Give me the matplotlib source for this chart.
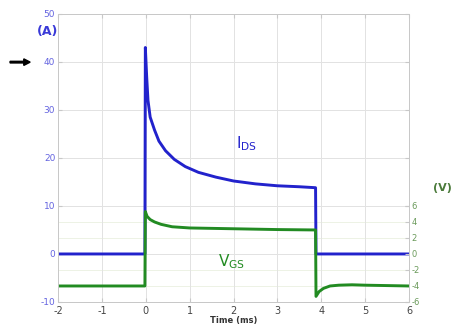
import matplotlib
matplotlib.use('Agg')
import matplotlib.pyplot as plt
from matplotlib.transforms import blended_transform_factory
from matplotlib.patches import FancyArrow

plt.rcParams['axes.unicode_minus'] = False

# drain-source current (A) vs time (ms)
t_ids = [-2, -0.02, -0.01, 0.02, 0.05, 0.1, 0.2, 0.3, 0.45, 0.65, 0.9, 1.2, 1.6, 2.0, 2.5, 3.0, 3.5, 3.87, 3.88, 6]
ids = [0, 0, 43, 37, 32, 28.5, 25.8, 23.5, 21.5, 19.7, 18.2, 17, 16, 15.2, 14.6, 14.2, 14, 13.8, 0, 0]

# gate-source voltage (V) vs time (ms)
t_vgs = [-2, -0.02, -0.01, 0.03, 0.1, 0.2, 0.35, 0.6, 1.0, 1.5, 2.0, 3.0, 3.87, 3.88, 3.95, 4.05, 4.2, 4.4, 4.7, 5.0, 6]
vgs = [-4, -4, 5.3, 4.7, 4.3, 4.0, 3.7, 3.4, 3.25, 3.2, 3.15, 3.05, 3.0, -5.3, -4.7, -4.3, -4.0, -3.9, -3.85, -3.9, -4]

x_ticks = [-2, -1, 0, 1, 2, 3, 4, 5, 6]
a_ticks = [-10, 0, 10, 20, 30, 40, 50]
v_ticks = [-6, -4, -2, 0, 2, 4, 6]

blue = '#2222cc'
green = '#228b22'
grid_c = '#e2e2e2'

fig = plt.figure(figsize=(4.57, 3.27), dpi=100)
ax = fig.add_axes([0.127, 0.0765, 0.768, 0.881])
ax2 = ax.twinx()

ax.plot(t_ids, ids, color=blue, lw=2.1, zorder=3)
ax2.plot(t_vgs, vgs, color=green, lw=2.1)

ax.set_xlim(-2, 6)
ax.set_ylim(-10, 50)
ax2.set_ylim(-6, 30)
ax.set_xticks(x_ticks)
ax.set_yticks(a_ticks)
ax2.set_yticks(v_ticks)

ax.grid(True, color=grid_c, lw=0.7)
# faint grid of the voltage axis, drawn under the current trace
trans = blended_transform_factory(ax.transAxes, ax2.transData)
for v in v_ticks:
    ax.plot([0, 1], [v, v], transform=trans, color='#eaf0e0', lw=0.6, zorder=0.5)

for a in (ax, ax2):
    for s in a.spines.values():
        s.set_color('#c8c8c8')
        s.set_linewidth(0.7)

ax.tick_params(axis='y', colors='#c8c8c8', labelcolor='#6464e0', labelsize=6.5,
               direction='in', length=3, right=True, pad=2)
ax.tick_params(axis='x', colors='#c8c8c8', labelcolor='#444444', labelsize=7,
               direction='in', length=3, top=True, pad=3)
ax2.tick_params(axis='y', colors='#c8c8c8', labelcolor='#6a9a5a', labelsize=6,
                direction='in', length=3, pad=2)

ax.set_xlabel('Time (ms)', fontsize=6, fontweight='bold', color='#333333', labelpad=0)

ax.text(2.3, 23, r'I$_{\mathregular{DS}}$', color=blue, fontsize=11, ha='center', va='center')
ax.text(1.95, -1.7, r'V$_{\mathregular{GS}}$', color=green, fontsize=11, ha='center', va='center')

fig.text(0.103, 0.905, '(A)', color='#3a3ad8', fontsize=9, fontweight='bold', ha='center', va='center')
fig.text(0.968, 0.425, '(V)', color='#4a7a3a', fontsize=8, fontweight='bold', ha='center', va='center')
fig.patches.append(FancyArrow(
    0.022, 0.81, 0.03, 0, width=0.005, head_width=0.02, head_length=0.014,
    color='black', transform=fig.transFigure, figure=fig))

fig.savefig('out.png', dpi=100)
